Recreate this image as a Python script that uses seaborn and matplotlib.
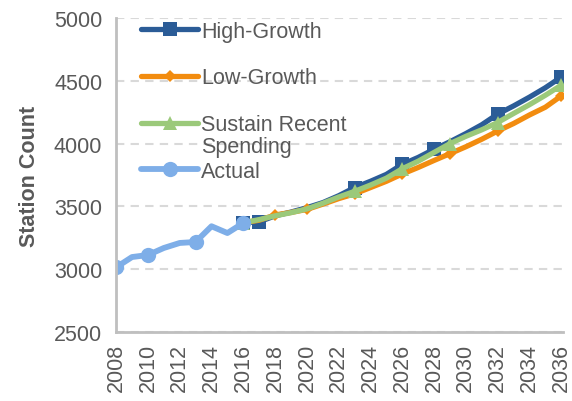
import matplotlib
matplotlib.use("Agg")
import matplotlib.pyplot as plt
import seaborn as sns
import pandas as pd

# actual counts, 2008-2016
actual_years = list(range(2008, 2017))
actual = [3015, 3097, 3113, 3169, 3209, 3217, 3342, 3288, 3368]

# projections, 2016-2036
proj_years = list(range(2016, 2037))
high_growth = [3370, 3378, 3425, 3455, 3490, 3530, 3585, 3650, 3700, 3755, 3835,
               3890, 3955, 4015, 4080, 4150, 4235, 4300, 4370, 4445, 4530]
low_growth = [3370, 3390, 3432, 3452, 3476, 3518, 3562, 3600, 3650, 3700, 3758,
              3810, 3866, 3920, 3975, 4035, 4100, 4160, 4228, 4290, 4380]
sustain = [3370, 3395, 3425, 3450, 3480, 3525, 3575, 3620, 3670, 3725, 3800,
           3860, 3930, 4000, 4058, 4110, 4168, 4240, 4310, 4385, 4465]

colors = {'High-Growth': '#2b5c97', 'Low-Growth': '#f28c0f',
          'Sustain Recent': '#9bc97a', 'Actual': '#7eaee8'}

sns.set_theme(style='white')
plt.rcParams['font.family'] = ['Liberation Sans', 'DejaVu Sans']
grey = '#595959'
fs = 15.5

fig = plt.figure(figsize=(5.72, 4.02), dpi=100)
ax = fig.add_axes([0.203, 0.1716, 0.781, 0.7811])

df_proj = pd.DataFrame({'Year': proj_years, 'High': high_growth,
                        'Low': low_growth, 'Sustain': sustain})
df_act = pd.DataFrame({'Year': actual_years, 'Actual': actual})

sns.lineplot(data=df_proj, x='Year', y='High', ax=ax, color=colors['High-Growth'],
             lw=3.8, marker='s', markersize=10, markeredgewidth=0,
             markevery=[0, 1, 7, 10, 12, 16, 20], label='High-Growth')
sns.lineplot(data=df_proj, x='Year', y='Low', ax=ax, color=colors['Low-Growth'],
             lw=3.8, marker='D', markersize=6.5, markeredgewidth=0,
             markevery=[2, 4, 7, 10, 13, 16, 20], label='Low-Growth')
sns.lineplot(data=df_proj, x='Year', y='Sustain', ax=ax, color=colors['Sustain Recent'],
             lw=3.8, marker='^', markersize=10, markeredgewidth=0,
             markevery=[0, 7, 10, 13, 16, 20], label='Sustain Recent')
sns.lineplot(data=df_act, x='Year', y='Actual', ax=ax, color=colors['Actual'],
             lw=4.2, marker='o', markersize=11, markeredgewidth=0,
             markevery=[0, 2, 5, 8], label='Actual')

ax.set_xlim(2008, 2036.1)
ax.set_ylim(2500, 5000)
ax.set_yticks([2500, 3000, 3500, 4000, 4500, 5000])
ax.set_xticks(list(range(2008, 2037)))
ax.set_xticklabels([str(y) if y % 2 == 0 else '' for y in range(2008, 2037)],
                   rotation=90)
ax.tick_params(axis='both', labelsize=fs, colors=grey, length=5, width=1.5,
               direction='out', pad=3)
ax.tick_params(axis='x', color='#bfbfbf')
ax.tick_params(axis='y', color='#bfbfbf', pad=5)
ax.yaxis.grid(True, linestyle=(0, (4, 3)), color='#d9d9d9', lw=1.5)
ax.set_axisbelow(True)
for s in ['top', 'right']:
    ax.spines[s].set_visible(False)
for s in ['left', 'bottom']:
    ax.spines[s].set_color('#bfbfbf')
    ax.spines[s].set_linewidth(2)

ax.set_xlabel('')
ax.set_ylabel('Station Count', fontsize=fs, fontweight='bold', color=grey, labelpad=10)

leg = ax.legend(loc='upper left', bbox_to_anchor=(0.022, 1.04), frameon=False,
                fontsize=fs, labelspacing=1.2, handlelength=2.65,
                handletextpad=0.15, borderpad=0.2)
for t in leg.get_texts():
    t.set_color(grey)

# second line of the "Sustain Recent Spending" label
fig.canvas.draw()
bb = leg.get_texts()[2].get_window_extent()
ax.annotate('Spending', xy=(bb.x0, bb.y0 - 1), xycoords='figure pixels',
            ha='left', va='top', fontsize=fs, color=grey)

fig.savefig('out.png', dpi=100)
